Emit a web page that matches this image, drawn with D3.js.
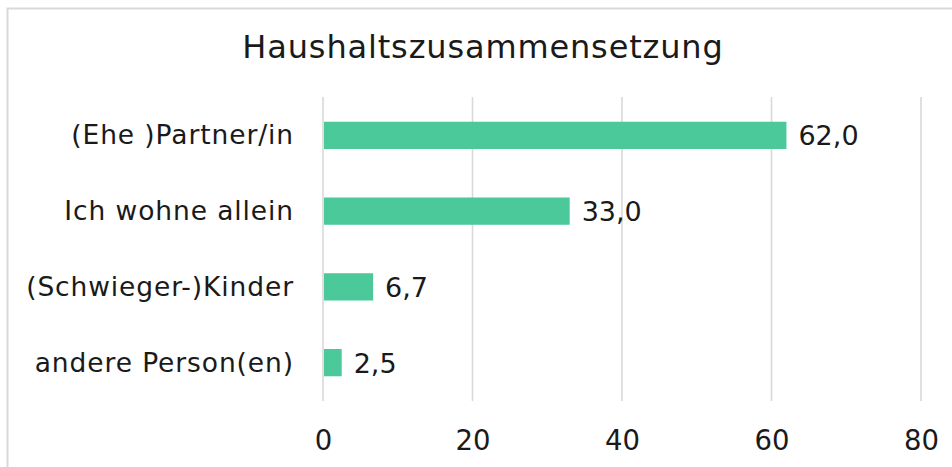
<!DOCTYPE html>
<html>
<head>
<meta charset="utf-8">
<script src="https://cdn.jsdelivr.net/npm/d3@7"></script>
<style>
  body { margin: 0; background: #fff; }
  text { font-family: "DejaVu Sans", sans-serif; fill: #1a1a1a; }
</style>
</head>
<body>
<div id="chart"></div>
<script>
const categories = ['(Ehe )Partner/in', 'Ich wohne allein', '(Schwieger-)Kinder', 'andere Person(en)'];
const values = [62.0, 33.0, 6.7, 2.5];
const ticks = [0, 20, 40, 60, 80];
const title = 'Haushaltszusammensetzung';

const width = 952, height = 467;
const font = '"DejaVu Sans", sans-serif';

const svg = d3.select('#chart').append('svg')
  .attr('width', width)
  .attr('height', height);

// chart frame (runs off the right and bottom edge)
svg.append('rect')
  .attr('x', 7.5).attr('y', 8.5)
  .attr('width', width + 20).attr('height', height + 20)
  .attr('fill', 'none')
  .attr('stroke', '#d9d9d9')
  .attr('stroke-width', 2);

svg.append('text')
  .attr('x', 483).attr('y', 58)
  .attr('text-anchor', 'middle')
  .style('font-size', '32px')
  .style('letter-spacing', '0.85px')
  .text(title);

let x = d3.scaleLinear().domain([0, 80]).range([323, 921]);
let y = d3.scaleBand().domain(categories).range([97.5, 400.5]).paddingInner(0.64).paddingOuter(0.32);

// gridlines
svg.append('g').selectAll('line')
  .data(ticks)
  .enter().append('line')
  .attr('x1', d => x(d)).attr('x2', d => x(d))
  .attr('y1', 97).attr('y2', 401)
  .attr('stroke', '#d9d9d9')
  .attr('stroke-width', 1.6);

// tick labels
let xAxis = svg.append('g')
  .attr('transform', 'translate(0,421)')
  .call(d3.axisBottom(x).tickValues(ticks).tickSize(0));
xAxis.select('.domain').remove();
xAxis.selectAll('text')
  .attr('dy', 0).attr('y', 29)
  .style('font-size', '27.5px')
  .style('font-family', font)
  .attr('fill', '#1a1a1a');

// bars
svg.append('g').selectAll('rect')
  .data(values)
  .enter().append('rect')
  .attr('x', x(0) + 1)
  .attr('y', (d, i) => y(categories[i]))
  .attr('width', d => x(d) - x(0) - 1)
  .attr('height', y.bandwidth())
  .attr('fill', '#4bc99b');

// category labels
svg.append('g').selectAll('text')
  .data(categories)
  .enter().append('text')
  .attr('x', 294)
  .attr('y', d => y(d) + y.bandwidth() / 2 + 9)
  .attr('text-anchor', 'end')
  .style('font-size', '26.5px')
  .style('letter-spacing', '0.9px')
  .text(d => d);

// value labels
svg.append('g').selectAll('text')
  .data(values)
  .enter().append('text')
  .attr('x', d => x(d) + 12)
  .attr('y', (d, i) => y(categories[i]) + y.bandwidth() / 2 + 10)
  .style('font-size', '27px')
  .text(d => d.toFixed(1).replace('.', ','));
</script>
</body>
</html>
